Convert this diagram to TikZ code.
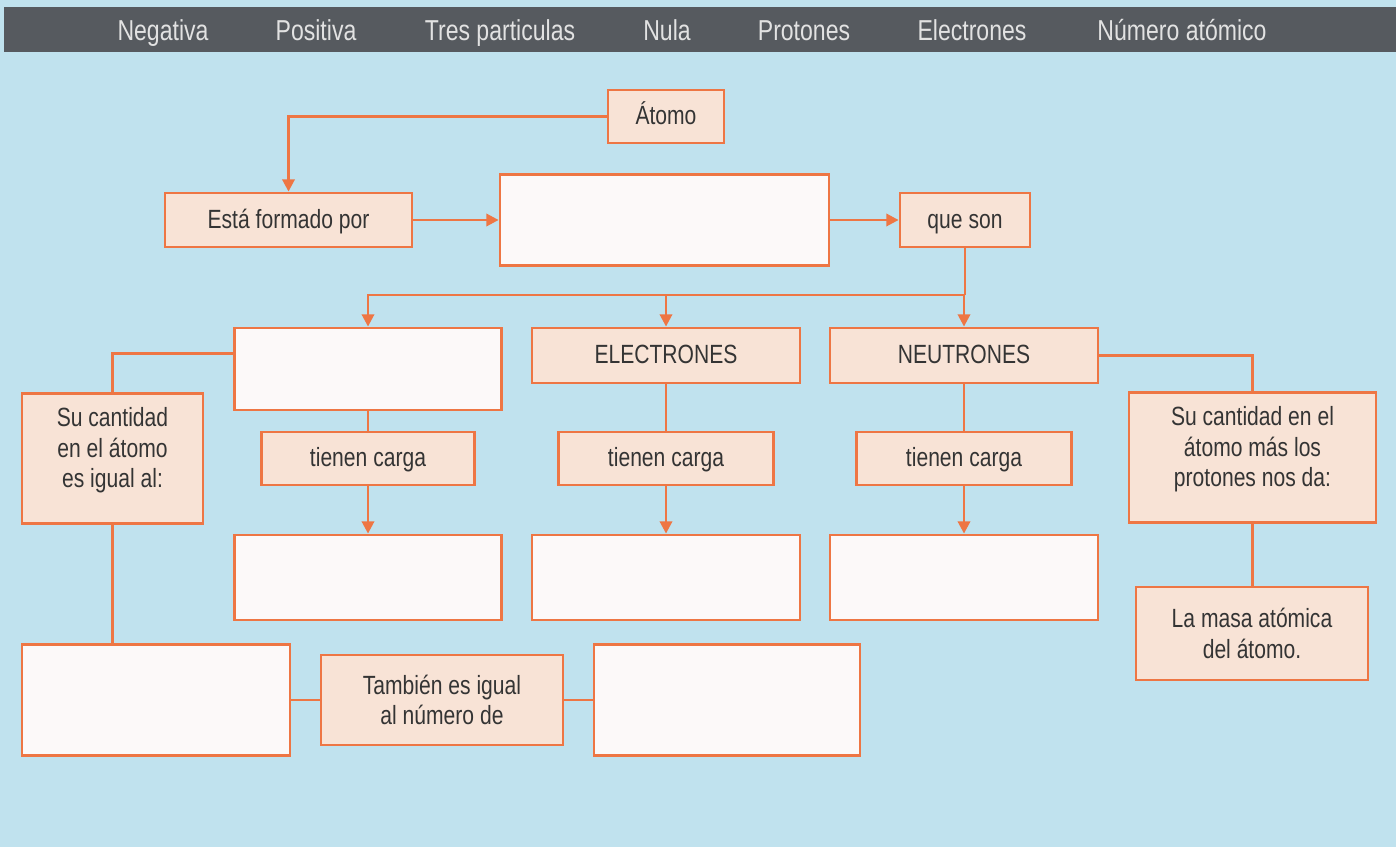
\documentclass[tikz,border=0pt]{standalone}
\usepackage{fontspec}
\setmainfont{Liberation Sans}[FakeStretch=0.8]
\usetikzlibrary{arrows.meta}

\definecolor{fondo}{RGB}{192,226,238}
\definecolor{barra}{RGB}{86,90,95}
\definecolor{barratexto}{RGB}{226,226,226}
\definecolor{naranja}{RGB}{238,118,68}
\definecolor{crema}{RGB}{248,227,214}
\definecolor{blanco}{RGB}{252,249,249}
\definecolor{texto}{RGB}{52,52,52}

\tikzset{
  caja/.style={draw=naranja, fill=crema, line width=1.6pt, align=center, text=texto, inner sep=0pt},
  simple/.style={caja, text height=1.15em, text depth=0.2em},
  vacia/.style={caja, fill=blanco},
  linea/.style={draw=naranja, line width=1.5pt},
  flecha/.style={linea, -{Triangle[length=7pt,width=7pt]}},
  etiqueta/.style={text=barratexto, anchor=base, font=\fontsize{16.4}{19}\selectfont}
}

\begin{document}
\begin{tikzpicture}[x=0.02cm, y=-0.02cm, font=\fontsize{15}{17.5}\selectfont]
    \useasboundingbox[fill=fondo] (0,0) rectangle (1396,847);
    \fill[barra] (4,7) rectangle (1396,52);
    \foreach \x/\t/\n in {163/Negativa/neg, 316/Positiva/pos, 500/Tres particulas/tres, 667/Nula/nula,
        804/Protones/prot, 972/Electrones/elec, 1182/Número atómico/num}
        \node[etiqueta] (\n) at (\x,41) {\t};

    % nivel superior
    \node[simple, minimum width=2.32cm, minimum height=1.06cm] (atomo) at (666,116.5) {Átomo};
    \node[simple, minimum width=4.94cm, minimum height=1.08cm] (formado) at (288.5,220) {Está formado por};
    \node[vacia, minimum width=6.58cm, minimum height=1.82cm] (particulas) at (664.5,220) {};
    \node[simple, minimum width=2.6cm, minimum height=1.08cm] (queson) at (965,220) {que son};

    % las tres particulas
    \node[vacia, minimum width=5.34cm, minimum height=1.64cm] (protones) at (368,369) {};
    \node[simple, minimum width=5.36cm, minimum height=1.1cm] (electrones) at (666,355.5) {ELECTRONES};
    \node[simple, minimum width=5.36cm, minimum height=1.1cm] (neutrones) at (964,355.5) {NEUTRONES};

    \node[simple, minimum width=4.26cm, minimum height=1.06cm] (cargaP) at (368,458.5) {tienen carga};
    \node[simple, minimum width=4.3cm, minimum height=1.06cm] (cargaE) at (666,458.5) {tienen carga};
    \node[simple, minimum width=4.3cm, minimum height=1.06cm] (cargaN) at (964,458.5) {tienen carga};

    \node[vacia, minimum width=5.34cm, minimum height=1.7cm] (signoP) at (368,577.5) {};
    \node[vacia, minimum width=5.36cm, minimum height=1.7cm] (signoE) at (666,577.5) {};
    \node[vacia, minimum width=5.36cm, minimum height=1.7cm] (signoN) at (964,577.5) {};

    % laterales
    \node[caja, minimum width=3.62cm, minimum height=2.6cm] (cantidadP) at (112.5,458.5)
        {Su cantidad\\en el átomo\\es igual al:\\[-5pt]\mbox{}};
    \node[caja, minimum width=4.94cm, minimum height=2.6cm] (cantidadN) at (1252.5,457.5)
        {Su cantidad en el\\átomo más los\\protones nos da:\\[-5pt]\mbox{}};
    \node[caja, minimum width=4.64cm, minimum height=1.86cm] (masa) at (1252,633.5)
        {La masa atómica\\del átomo.};

    % fila inferior
    \node[vacia, minimum width=5.36cm, minimum height=2.22cm] (numeroI) at (156,700) {};
    \node[caja, minimum width=4.84cm, minimum height=1.8cm] (tambien) at (442,700)
        {También es igual\\al número de};
    \node[vacia, minimum width=5.32cm, minimum height=2.22cm] (numeroD) at (727,700) {};

    % conectores
    \draw[flecha] (atomo.west) -| (formado.north);
    \draw[flecha] (formado.east) -- (particulas.west);
    \draw[flecha] (particulas.east) -- (queson.west);
    \coordinate (reparto) at (965,295);
    \draw[linea] (queson.south) -- (reparto);
    \draw[flecha] (reparto) -| (protones.north);
    \draw[flecha] (reparto) -| (electrones.north);
    \draw[flecha] (reparto) -| (neutrones.north);

    \draw[linea] (protones.south) -- (cargaP.north);
    \draw[linea] (electrones.south) -- (cargaE.north);
    \draw[linea] (neutrones.south) -- (cargaN.north);
    \draw[flecha] (cargaP.south) -- (signoP.north);
    \draw[flecha] (cargaE.south) -- (signoE.north);
    \draw[flecha] (cargaN.south) -- (signoN.north);

    \draw[linea] ([yshift=-0.54cm]protones.north west) -| (cantidadP.north);
    \draw[linea] (cantidadP.south) -- (cantidadP.south |- numeroI.north);
    \draw[linea] (numeroI.east) -- (tambien.west);
    \draw[linea] (tambien.east) -- (numeroD.west);
    \draw[linea] (neutrones.east) -| (cantidadN.north);
    \draw[linea] (cantidadN.south) -- (cantidadN.south |- masa.north);
\end{tikzpicture}
\end{document}
